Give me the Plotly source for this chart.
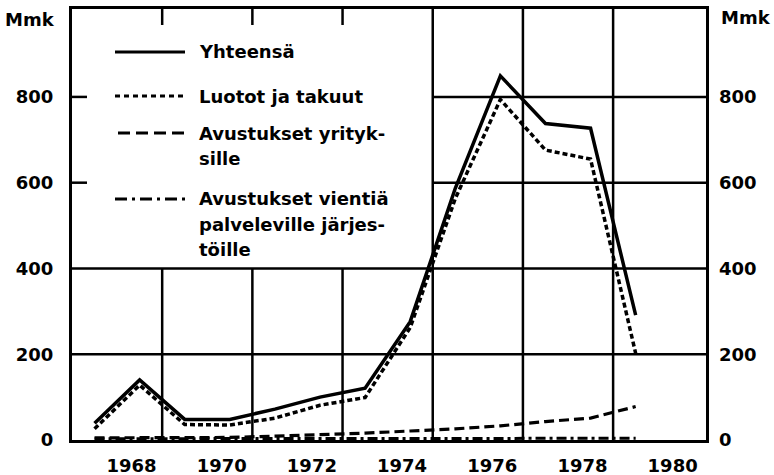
import plotly.graph_objects as go

# ---- data ----
years = [1967, 1968, 1969, 1970, 1971, 1972, 1973, 1974, 1975, 1976, 1977, 1978, 1979]
yhteensa = [39, 140, 48, 48, 72, 100, 121, 276, 587, 849, 738, 727, 291]
luotot = [26, 128, 36, 35, 51, 81, 99, 262, 563, 794, 676, 655, 202]
yritykset = [5, 5, 5, 6, 9, 12, 16, 21, 26, 33, 43, 51, 78]
vienti = [3, 3, 3, 3, 3, 3, 3, 3, 3, 4, 4, 4, 4]

tick_years = [1968, 1970, 1972, 1974, 1976, 1978, 1980]
y_ticks = [0, 200, 400, 600, 800]
grid_years = [1968.5, 1970.5, 1972.5, 1974.5, 1976.5, 1978.5]
grid_vals = [200, 400, 600, 800]

series_names = ["Yhteensä", "Luotot ja takuut", "Avustukset yrityk-<br>sille",
                "Avustukset vientiä<br>palveleville järjes-<br>töille"]

# ---- geometry ----
W, H = 774, 475
L, R, T, B = 72, 68, 9, 35
XR = [1966.5, 1980.56]
YR = [0, 1005]
LEG_X = 1974.5   # legend box right edge (data x)
LEG_Y = 400      # legend box bottom edge (data y)
pw, ph = W - L - R, H - T - B


def px_to_paper(px, py):
    return (px - L) / pw, (H - B - py) / ph


FONT = "DejaVu Sans, sans-serif"
tickfont = dict(family=FONT, size=18, color="black", weight="bold")
legfont = dict(family=FONT, size=18, color="black", weight="bold")

fig = go.Figure()

styles = [
    (vienti, dict(color="black", width=3, dash="10px,4px,3px,4px")),
    (yritykset, dict(color="black", width=3.2, dash="10px,5px")),
    (luotot, dict(color="black", width=3.5, dash="5px,3px")),
    (yhteensa, dict(color="black", width=3.5)),
]
for vals, ln in styles:
    fig.add_trace(go.Scatter(x=years, y=vals, mode="lines", line=ln,
                             showlegend=False, hoverinfo="skip"))

# invisible trace to carry the right-hand axis
fig.add_trace(go.Scatter(x=years, y=yhteensa, yaxis="y2", mode="lines",
                         line=dict(width=0), opacity=0, showlegend=False,
                         hoverinfo="skip"))

shapes = []
gl = dict(color="black", width=2.5)
for v in grid_vals:
    x0 = LEG_X if v > LEG_Y else XR[0]
    shapes.append(dict(type="line", xref="x", yref="y", x0=x0, x1=XR[1],
                       y0=v, y1=v, line=gl, layer="below"))
    if v > LEG_Y:
        shapes.append(dict(type="line", xref="x", yref="y", xsizemode="pixel",
                           xanchor=XR[0], x0=0, x1=15, y0=v, y1=v,
                           line=gl, layer="below"))
for g in grid_years:
    y1 = LEG_Y if g < LEG_X else YR[1]
    shapes.append(dict(type="line", xref="x", yref="y", x0=g, x1=g,
                       y0=YR[0], y1=y1, line=gl, layer="below"))
    if g < LEG_X:
        shapes.append(dict(type="line", xref="x", yref="y", ysizemode="pixel",
                           yanchor=YR[1], y0=0, y1=-16, x0=g, x1=g,
                           line=gl, layer="below"))

# legend (manual)
leg_rows_py = [52, 96, 133, 199]
leg_dash = [None, "5px,4px", "12px,6px", "12px,5px,3px,5px"]
leg_x0 = [115, 115, 118, 115]
LINE_STEP = 25
annotations = []
for name, py, dash, lx in zip(series_names, leg_rows_py, leg_dash, leg_x0):
    x0, y0 = px_to_paper(lx, py)
    x1, _ = px_to_paper(185, py)
    ln = dict(color="black", width=3)
    if dash:
        ln["dash"] = dash
    shapes.append(dict(type="line", xref="paper", yref="paper", x0=x0, x1=x1,
                       y0=y0, y1=y0, line=ln))
    for i, part in enumerate(name.split("<br>")):
        tx, ty = px_to_paper(197, py + i * LINE_STEP)
        annotations.append(dict(text=part, xref="paper", yref="paper",
                                x=tx, y=ty, xanchor="left", yanchor="middle",
                                align="left", showarrow=False, font=legfont))

# unit labels
mx, my = px_to_paper(57, 20)
annotations.append(dict(text="Mmk", xref="paper", yref="paper", x=mx, y=my,
                        xanchor="right", yanchor="middle", showarrow=False,
                        font=tickfont))
mx, my = px_to_paper(719, 18)
annotations.append(dict(text="Mmk", xref="paper", yref="paper", x=mx, y=my,
                        xanchor="left", yanchor="middle", showarrow=False,
                        font=tickfont))

fig.update_layout(
    width=W, height=H, margin=dict(l=L, r=R, t=T, b=B, autoexpand=False),
    plot_bgcolor="white", paper_bgcolor="white", showlegend=False,
    xaxis=dict(range=XR, tickvals=[y - 0.18 for y in tick_years],
               ticktext=[str(y) for y in tick_years], showgrid=False,
               zeroline=False, showline=True, linewidth=3, linecolor="black",
               mirror=True, ticks="", tickfont=tickfont, ticklabelstandoff=7,
               automargin=False),
    yaxis=dict(range=YR, tickvals=y_ticks, ticktext=[str(v) for v in y_ticks],
               showgrid=False, zeroline=False, showline=True, linewidth=3,
               linecolor="black", mirror=True, ticks="", tickfont=tickfont,
               ticklabelstandoff=12, automargin=False),
    yaxis2=dict(range=YR, tickvals=y_ticks, ticktext=[str(v) for v in y_ticks],
                overlaying="y", side="right", showgrid=False, zeroline=False,
                showline=False, ticks="", tickfont=tickfont,
                ticklabelstandoff=12, automargin=False),
    shapes=shapes, annotations=annotations,
)

fig.write_html("out.html", config={"displayModeBar": False},
               post_script="document.body.style.margin='0';")
